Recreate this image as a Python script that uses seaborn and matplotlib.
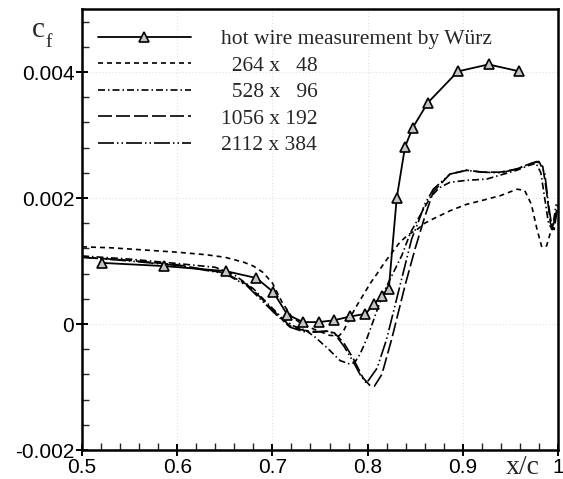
import matplotlib
matplotlib.use("Agg")
import matplotlib.pyplot as plt
import seaborn as sns
import pandas as pd
from matplotlib.ticker import FixedLocator, FixedFormatter, MultipleLocator
from matplotlib.lines import Line2D

# ---------------- data ----------------
x_meas = [0.5208, 0.5859, 0.6509, 0.6831, 0.7008, 0.7156, 0.7322, 0.7485, 0.7651,
          0.7818, 0.7977, 0.8071, 0.8154, 0.8222, 0.8306, 0.8393, 0.8472, 0.8631,
          0.8949, 0.9270, 0.9595]
cf_meas = [0.00097, 0.00092, 0.00084, 0.00073, 0.00051, 0.00015, 0.00003, 0.00003,
           0.00006, 0.00012, 0.00016, 0.00032, 0.00045, 0.00055, 0.00200, 0.00281,
           0.00311, 0.00351, 0.00401, 0.00412, 0.00401]

x_264 = [0.50, 0.53, 0.56, 0.60, 0.63, 0.65, 0.67, 0.68, 0.69, 0.70, 0.71, 0.72, 0.73,
         0.74, 0.75, 0.76, 0.77, 0.775, 0.78, 0.787, 0.795, 0.803, 0.81, 0.818, 0.826,
         0.834, 0.843, 0.852, 0.86, 0.869, 0.887, 0.904, 0.92, 0.94, 0.957, 0.965,
         0.972, 0.978, 0.983, 0.988, 0.993, 0.998]
cf_264 = [0.001225, 0.00121, 0.00118, 0.00114, 0.00110, 0.00106, 0.00098, 0.00092,
          0.00082, 0.00065, 0.00035, 0.00012, 0.00001, -0.00006, -0.00012, -0.00018,
          -0.00019, -0.00010, 0.00005, 0.00025, 0.00045, 0.00065, 0.00080, 0.00098,
          0.00114, 0.00130, 0.00142, 0.00150, 0.00160, 0.00167, 0.00180, 0.00190,
          0.00196, 0.00204, 0.00214, 0.00212, 0.00190, 0.00150, 0.00122, 0.00124,
          0.00150, 0.00175]

x_528 = [0.50, 0.55, 0.60, 0.64, 0.66, 0.68, 0.694, 0.71, 0.722, 0.735, 0.745, 0.759,
         0.771, 0.780, 0.786, 0.792, 0.799, 0.806, 0.813, 0.820, 0.836, 0.845, 0.855,
         0.8655, 0.875, 0.8866, 0.904, 0.925, 0.9566, 0.970, 0.977, 0.982, 0.986,
         0.990, 0.994, 0.998]
cf_528 = [0.00108, 0.00103, 0.00096, 0.00090, 0.00078, 0.00056, 0.00034, 0.00010,
          -0.00003, -0.00010, -0.00021, -0.00040, -0.00058, -0.00063, -0.00062,
          -0.00048, -0.00024, 0.00005, 0.00035, 0.00060, 0.00109, 0.00145, 0.00172,
          0.00200, 0.00216, 0.00225, 0.00228, 0.00230, 0.00244, 0.00252, 0.00255,
          0.00240, 0.00200, 0.00160, 0.00150, 0.00190]

x_1056 = [0.50, 0.55, 0.60, 0.65, 0.673, 0.687, 0.701, 0.7185, 0.7325, 0.745, 0.757,
          0.765, 0.775, 0.785, 0.795, 0.802, 0.807, 0.815, 0.8253, 0.8393, 0.850,
          0.860, 0.869, 0.8866, 0.904, 0.9215, 0.939, 0.9566, 0.970, 0.978, 0.984,
          0.988, 0.992, 0.996, 1.000]
cf_1056 = [0.00106, 0.00101, 0.00094, 0.00081, 0.00063, 0.00043, 0.00021, -0.00003,
           -0.00010, -0.00012, -0.00012, -0.00014, -0.00030, -0.00055, -0.00085,
           -0.00097, -0.00099, -0.00080, -0.00024, 0.00061, 0.00120, 0.00170, 0.00210,
           0.00238, 0.00244, 0.00241, 0.00241, 0.00246, 0.00254, 0.00258, 0.00250,
           0.00210, 0.00160, 0.00150, 0.00190]

x_2112 = [0.50, 0.55, 0.60, 0.65, 0.673, 0.687, 0.701, 0.7185, 0.7325, 0.745, 0.757,
          0.765, 0.775, 0.785, 0.792, 0.7988, 0.810, 0.820, 0.834, 0.8463, 0.8533,
          0.860, 0.869, 0.8866, 0.904, 0.920, 0.940, 0.9566, 0.970, 0.980, 0.986,
          0.990, 0.994, 0.997, 1.000]
cf_2112 = [0.00106, 0.00100, 0.00093, 0.00080, 0.00061, 0.00040, 0.00019, -0.00005,
           -0.00012, -0.00013, -0.00011, -0.00015, -0.00035, -0.00060, -0.00080,
           -0.00094, -0.00070, -0.00024, 0.00061, 0.00135, 0.00162, 0.00190, 0.00214,
           0.00238, 0.00244, 0.00241, 0.00240, 0.00246, 0.00254, 0.00258, 0.00240,
           0.00190, 0.00150, 0.00170, 0.00190]

labels = ["hot wire measurement by Würz", "  264 x   48", "  528 x   96",
          "1056 x 192", "2112 x 384"]
xtick_vals = [0.5, 0.6, 0.7, 0.8, 0.9, 1.0]
xtick_labels = ["0.5", "0.6", "0.7", "0.8", "0.9", "1"]
ytick_vals = [-0.002, 0.0, 0.002, 0.004]
ytick_labels = ["-0.002", "0", "0.002", "0.004"]

# ---------------- styling ----------------
sns.set_style("ticks")
plt.rcParams["font.family"] = ["Liberation Sans", "DejaVu Sans"]

fig = plt.figure(figsize=(5.63, 4.79), dpi=100)
ax = fig.add_axes([82 / 563, 1 - 450 / 479, 476 / 563, 441 / 479])

lw = 1.2
styles = {
    "264": (0, (3.0, 2.4)),
    "528": (0, (4.2, 1.8, 0.9, 1.8)),
    "1056": (0, (8.4, 2.4)),
    "2112": (0, (9.6, 1.8, 0.9, 1.8, 0.9, 1.8)),
}

sims = [("264", x_264, cf_264), ("528", x_528, cf_528),
        ("1056", x_1056, cf_1056), ("2112", x_2112, cf_2112)]
for key, xs, ys in sims:
    df = pd.DataFrame({"x": xs, "cf": ys})
    sns.lineplot(data=df, x="x", y="cf", ax=ax, color="black", lw=lw,
                 linestyle=styles[key], estimator=None, errorbar=None, sort=False)

dfm = pd.DataFrame({"x": x_meas, "cf": cf_meas})
sns.lineplot(data=dfm, x="x", y="cf", ax=ax, color="black", lw=1.3,
             marker="^", markersize=7.5, markerfacecolor="#c4c4c4",
             markeredgecolor="black", markeredgewidth=1.2,
             estimator=None, errorbar=None, sort=False)

ax.set_xlim(0.5, 1.0)
ax.set_ylim(-0.002, 0.005)
ax.xaxis.set_major_locator(FixedLocator(xtick_vals))
ax.xaxis.set_major_formatter(FixedFormatter(xtick_labels))
ax.yaxis.set_major_locator(FixedLocator(ytick_vals))
ax.yaxis.set_major_formatter(FixedFormatter(ytick_labels))
ax.xaxis.set_minor_locator(MultipleLocator(0.02))
ax.yaxis.set_minor_locator(MultipleLocator(0.0004))
ax.tick_params(which="major", direction="inout", length=9, width=1.4,
               labelsize=15, pad=1, colors="black")
ax.tick_params(which="minor", direction="in", length=5, width=1.0)
ax.tick_params(axis="y", which="both", right=False)
ax.tick_params(axis="x", which="both", top=False)
ax.set_xlabel("")
ax.set_ylabel("")
ax.grid(True, which="major", color="#e2e2e2", linestyle=(0, (1, 2)), lw=0.8)
for s in ax.spines.values():
    s.set_visible(True)
    s.set_linewidth(1.8)
    s.set_color("black")

handles = [
    Line2D([], [], color="black", lw=1.3, marker="^", markersize=7.5,
           markerfacecolor="#c4c4c4", markeredgecolor="black", markeredgewidth=1.2),
    Line2D([], [], color="black", lw=lw, linestyle=styles["264"]),
    Line2D([], [], color="black", lw=lw, linestyle=styles["528"]),
    Line2D([], [], color="black", lw=lw, linestyle=styles["1056"]),
    Line2D([], [], color="black", lw=lw, linestyle=styles["2112"]),
]
ax.legend(handles, labels, loc="upper left", bbox_to_anchor=(0.034, 0.954),
          frameon=False, borderpad=0, borderaxespad=0, handlelength=4.3,
          handletextpad=1.4, labelspacing=0.30,
          prop={"family": "Liberation Serif", "size": 15.5})

fig.text(32 / 563, 1 - 37 / 479, "c", family="Liberation Serif", size=21,
         va="baseline", ha="left")
fig.text(45 / 563, 1 - 47 / 479, "f", family="Liberation Serif", size=14,
         va="baseline", ha="left")
fig.text(506 / 563, 5 / 479, "x/c", family="Liberation Serif", size=20,
         va="baseline", ha="left")

fig.savefig("out.png", dpi=100)
